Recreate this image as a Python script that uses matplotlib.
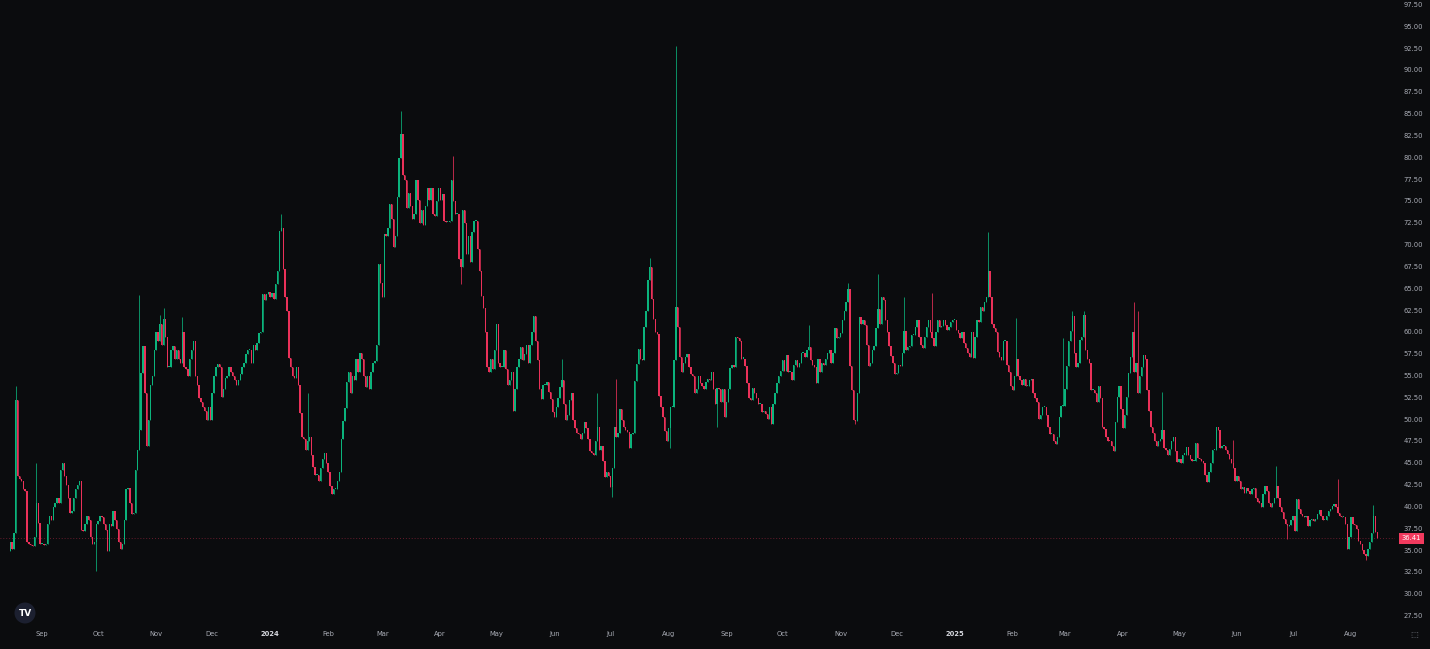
import numpy as np
import pandas as pd
import matplotlib
matplotlib.use("Agg")
import matplotlib.pyplot as plt
import matplotlib.dates as mdates
from matplotlib.patches import Ellipse
from matplotlib.transforms import blended_transform_factory

# ---------------- data (daily closes) ----------------
first_open = 35.0
c_2023_08 = [36.0, 35.2, 37.0, 52.3, 43.5, 43.2, 43.0, 42.0, 41.8, 36.0, 35.8, 35.6, 35.5, 36.5, 40.5, 38.1, 35.8]
c_2023_09 = [35.8, 35.6, 35.8, 38.0, 39.0, 38.5, 40.0, 40.5, 41.0, 40.5, 44.2, 45.0, 43.5, 42.5, 41.0, 39.3, 39.5, 41.0, 42.0, 42.5,
             43.0, 37.4, 37.2, 38.0, 39.0, 38.5, 36.5, 35.8, 36.0, 38.0]
c_2023_10 = [38.4, 39.0, 38.8, 38.0, 37.3, 35.0, 38.0, 37.8, 39.5, 38.5, 37.5, 36.0, 35.2, 35.8, 38.5, 42.0, 42.2, 40.5, 39.2, 39.3,
             44.2, 46.5, 48.8, 55.3, 58.4, 53.0, 47.0, 50.0, 54.0, 55.0, 58.0]
c_2023_11 = [60.0, 59.0, 61.0, 58.5, 61.5, 59.5, 56.0, 56.0, 58.0, 58.4, 57.0, 58.0, 57.0, 56.5, 60.0, 56.0, 55.8, 55.0, 57.0, 58.0,
             59.0, 55.0, 54.0, 52.5, 52.0, 51.5, 51.0, 50.0, 51.5, 50.0]
c_2023_12 = [53.0, 55.0, 56.0, 56.4, 56.0, 52.6, 53.5, 54.8, 55.0, 56.0, 55.5, 55.0, 54.5, 54.0, 54.5, 55.2, 56.0, 56.5, 57.5, 58.0,
             58.0, 56.5, 58.5, 58.0, 58.8, 59.9, 60.0, 64.4, 63.7, 64.4, 64.6]
c_2024_01 = [64.0, 64.5, 63.8, 65.5, 67.0, 71.6, 72.0, 67.2, 64.0, 62.5, 57.1, 56.0, 55.0, 54.8, 56.0, 54.0, 50.7, 48.0, 47.8, 46.5,
             47.5, 48.0, 46.0, 44.6, 43.6, 43.6, 43.0, 44.5, 45.5, 46.2, 45.0]
c_2024_02 = [44.0, 42.4, 41.5, 42.0, 42.0, 43.0, 44.0, 47.8, 49.8, 51.3, 54.3, 55.4, 53.0, 55.0, 54.5, 57.0, 55.5, 57.6, 57.0, 55.0,
             53.7, 55.0, 53.5, 55.5, 56.5, 56.7, 58.5, 67.8, 65.6]
c_2024_03 = [64.0, 71.3, 71.0, 72.0, 74.7, 73.0, 69.8, 71.0, 75.5, 80.0, 82.7, 78.0, 77.5, 74.3, 76.0, 74.5, 73.0, 73.5, 77.5, 75.2,
             72.5, 74.0, 72.3, 74.5, 76.5, 75.2, 76.5, 73.5, 73.3, 75.0, 76.5]
c_2024_04 = [75.2, 75.8, 72.8, 72.6, 72.6, 72.8, 77.5, 75.0, 73.5, 73.5, 68.4, 67.5, 74.0, 72.5, 69.0, 71.0, 68.0, 71.5, 72.8, 72.8,
             69.5, 67.0, 64.2, 62.8, 60.0, 56.0, 55.5, 57.0, 55.8, 58.0]
c_2024_05 = [60.9, 56.5, 56.0, 56.0, 58.0, 55.8, 54.0, 54.5, 55.5, 51.0, 53.5, 56.0, 57.0, 58.3, 56.8, 57.5, 58.5, 56.5, 58.5, 60.0,
             61.9, 59.0, 56.8, 53.5, 52.4, 54.0, 54.0, 54.3, 53.2, 52.4, 50.9]
c_2024_06 = [50.3, 51.5, 52.5, 53.7, 54.5, 51.8, 50.0, 50.5, 52.3, 53.0, 50.0, 49.0, 48.5, 48.3, 47.8, 48.5, 49.7, 49.0, 47.8, 46.4,
             46.2, 46.0, 47.5, 49.1, 46.5, 47.0, 45.3, 43.4, 44.0, 43.5]
c_2024_07 = [42.3, 44.5, 49.1, 48.0, 48.5, 51.2, 50.0, 49.2, 48.8, 48.6, 46.8, 48.3, 48.5, 54.4, 56.4, 58.1, 57.0, 56.8, 60.6, 62.5,
             66.0, 67.5, 63.8, 61.5, 60.0, 59.8, 52.7, 51.4, 50.3, 48.7, 47.6]
c_2024_08 = [49.0, 51.4, 51.4, 56.8, 62.9, 60.6, 57.2, 55.5, 56.5, 57.2, 57.5, 56.0, 55.2, 55.0, 53.0, 53.5, 55.0, 54.2, 53.8, 53.5,
             54.3, 54.7, 54.5, 55.5, 53.5, 51.8, 53.6, 53.5, 52.0, 53.5, 50.3]
c_2024_09 = [52.0, 53.5, 55.9, 56.2, 56.0, 59.5, 59.3, 59.0, 57.0, 57.0, 56.1, 54.2, 52.5, 52.3, 53.6, 53.0, 52.5, 51.8, 51.8, 50.9,
             51.0, 50.6, 50.1, 51.5, 49.5, 51.8, 53.0, 54.2, 55.0, 55.6]
c_2024_10 = [56.8, 55.6, 57.4, 55.4, 55.4, 54.5, 56.3, 56.8, 56.0, 56.5, 57.6, 57.6, 57.2, 58.0, 58.3, 56.8, 56.3, 56.0, 54.2, 57.0,
             55.5, 56.5, 56.3, 57.0, 57.6, 58.0, 56.5, 57.6, 60.5, 59.3, 59.5]
c_2024_11 = [59.9, 61.4, 62.5, 63.5, 65.0, 56.1, 53.4, 50.0, 49.8, 53.0, 61.8, 61.0, 61.4, 60.8, 58.5, 56.1, 56.5, 58.0, 58.4, 60.5,
             62.7, 61.0, 64.0, 63.7, 61.4, 60.0, 58.4, 57.3, 56.5, 55.2]
c_2024_12 = [55.3, 56.3, 56.1, 57.6, 60.1, 58.0, 58.3, 58.4, 59.7, 59.7, 60.6, 61.4, 59.5, 58.5, 58.2, 59.5, 60.6, 61.4, 60.0, 59.3,
             58.4, 60.0, 61.4, 60.6, 60.7, 61.4, 60.8, 60.3, 60.6, 61.2, 61.4]
c_2025_01 = [61.4, 60.3, 59.9, 59.3, 60.0, 58.8, 58.2, 57.6, 57.2, 60.0, 57.1, 59.5, 61.4, 61.2, 62.9, 62.5, 63.5, 64.0, 67.0, 64.0,
             61.0, 60.5, 60.0, 57.8, 57.2, 56.8, 59.0, 59.0, 56.2, 55.5, 53.8]
c_2025_02 = [53.4, 55.0, 57.0, 55.0, 54.5, 54.0, 54.7, 53.8, 53.8, 54.5, 54.6, 53.0, 52.5, 52.0, 50.1, 50.5, 51.4, 51.4, 50.5, 49.2,
             48.4, 48.4, 47.5, 47.2, 48.0, 50.3, 51.6, 51.6]
c_2025_03 = [53.5, 56.1, 59.0, 60.2, 61.9, 57.6, 56.0, 56.5, 59.1, 59.5, 62.0, 58.0, 57.0, 56.5, 53.4, 53.4, 53.0, 52.0, 53.8, 52.5,
             49.2, 48.9, 48.0, 47.6, 47.5, 47.0, 46.4, 49.7, 52.6, 53.8, 51.2]
c_2025_04 = [49.0, 50.5, 52.6, 55.3, 57.2, 60.0, 55.5, 56.5, 53.0, 55.0, 56.0, 57.4, 57.0, 53.4, 51.0, 49.2, 48.5, 47.5, 47.0, 47.6,
             47.8, 48.8, 46.8, 46.5, 46.0, 46.6, 47.5, 48.0, 46.4, 45.2]
c_2025_05 = [45.5, 45.0, 46.0, 46.0, 46.9, 46.0, 45.5, 45.3, 45.3, 47.3, 45.6, 45.5, 45.3, 45.0, 43.7, 42.8, 44.0, 45.0, 46.5, 46.5,
             49.2, 48.8, 46.8, 47.0, 47.0, 46.5, 46.1, 45.5, 45.0, 44.5, 43.0]
c_2025_06 = [43.5, 43.0, 42.0, 42.3, 41.6, 42.2, 41.8, 41.5, 42.0, 42.2, 41.0, 40.6, 40.5, 40.0, 41.5, 42.4, 41.8, 40.5, 40.0, 40.5,
             41.0, 42.4, 41.0, 40.0, 39.4, 38.6, 38.0, 37.8, 37.9, 38.5]
c_2025_07 = [39.0, 37.2, 40.9, 39.8, 39.2, 39.0, 38.8, 38.9, 37.8, 38.5, 38.6, 38.4, 38.6, 39.2, 39.7, 39.0, 38.5, 38.5, 39.0, 39.5,
             39.8, 40.1, 40.3, 40.0, 39.3, 39.0, 38.8, 38.8, 38.0, 35.2, 36.5]
c_2025_08 = [38.8, 38.0, 37.9, 37.5, 36.1, 35.8, 35.1, 34.6, 34.4, 35.2, 36.0, 37.0, 39.0, 37.1, 36.41]

# wick extremes that reach beyond the candle bodies
wick_high = {
    "2023-08-18": 53.8, "2023-08-29": 45.0, "2023-10-23": 64.3, "2023-11-03": 62.0, "2023-11-05": 62.8,
    "2023-11-15": 61.8, "2024-01-07": 73.6, "2024-01-21": 53.0, "2024-03-11": 85.3, "2024-04-08": 80.2,
    "2024-06-05": 57.0, "2024-06-24": 53.0, "2024-07-04": 54.6, "2024-07-22": 68.5, "2024-08-05": 92.8,
    "2024-10-15": 60.8, "2024-11-05": 65.7, "2024-11-21": 66.7, "2024-12-05": 64.1, "2024-12-20": 64.5,
    "2025-01-19": 71.5, "2025-02-03": 61.6, "2025-02-28": 59.3, "2025-03-05": 62.5, "2025-03-11": 62.5,
    "2025-04-07": 63.5, "2025-04-09": 62.5, "2025-04-22": 53.2, "2025-05-30": 47.7, "2025-06-22": 44.7,
    "2025-07-25": 43.2, "2025-08-13": 40.2,
}
wick_low = {
    "2023-09-30": 32.7, "2024-04-12": 65.5, "2024-07-02": 41.1, "2024-08-02": 46.8, "2024-08-27": 49.2,
    "2025-08-09": 33.9, "2024-11-09": 49.5, "2025-06-28": 36.3,
}

month_lists = [
    ("2023-08-15", c_2023_08), ("2023-09-01", c_2023_09), ("2023-10-01", c_2023_10), ("2023-11-01", c_2023_11),
    ("2023-12-01", c_2023_12), ("2024-01-01", c_2024_01), ("2024-02-01", c_2024_02), ("2024-03-01", c_2024_03),
    ("2024-04-01", c_2024_04), ("2024-05-01", c_2024_05), ("2024-06-01", c_2024_06), ("2024-07-01", c_2024_07),
    ("2024-08-01", c_2024_08), ("2024-09-01", c_2024_09), ("2024-10-01", c_2024_10), ("2024-11-01", c_2024_11),
    ("2024-12-01", c_2024_12), ("2025-01-01", c_2025_01), ("2025-02-01", c_2025_02), ("2025-03-01", c_2025_03),
    ("2025-04-01", c_2025_04), ("2025-05-01", c_2025_05), ("2025-06-01", c_2025_06), ("2025-07-01", c_2025_07),
    ("2025-08-01", c_2025_08),
]

month_ticks = ["2023-09-01", "2023-10-01", "2023-11-01", "2023-12-01", "2024-01-01", "2024-02-01", "2024-03-01",
               "2024-04-01", "2024-05-01", "2024-06-01", "2024-07-01", "2024-08-01", "2024-09-01", "2024-10-01",
               "2024-11-01", "2024-12-01", "2025-01-01", "2025-02-01", "2025-03-01", "2025-04-01", "2025-05-01",
               "2025-06-01", "2025-07-01", "2025-08-01"]
month_labels = ["Sep", "Oct", "Nov", "Dec", "2024", "Feb", "Mar", "Apr", "May", "Jun", "Jul", "Aug", "Sep", "Oct",
                "Nov", "Dec", "2025", "Feb", "Mar", "Apr", "May", "Jun", "Jul", "Aug"]
last_value = 36.41

# ---------------- build OHLC ----------------
dates, closes = [], []
for start, vals in month_lists:
    dates.extend(pd.date_range(start, periods=len(vals), freq="D"))
    closes.extend(vals)
dates = pd.DatetimeIndex(dates)
closes = np.array(closes, dtype=float)
opens = np.concatenate([[first_open], closes[:-1]])
highs = np.maximum(opens, closes)
lows = np.minimum(opens, closes)
idx = {d.strftime("%Y-%m-%d"): i for i, d in enumerate(dates)}
for k, v in wick_high.items():
    if k in idx:
        highs[idx[k]] = max(highs[idx[k]], v)
for k, v in wick_low.items():
    if k in idx:
        lows[idx[k]] = min(lows[idx[k]], v)

# ---------------- style ----------------
BG = "#0b0c0e"
UP = "#0bb47c"
DOWN = "#eb3159"
TXT = "#a9acb5"

W, H = 1430, 649
fig = plt.figure(figsize=(W / 100, H / 100), dpi=100, facecolor=BG)
ax = fig.add_axes([0, 25 / H, 1395 / W, 624 / H], facecolor=BG)

x = mdates.date2num(dates)
up = closes >= opens
colors = np.where(up, UP, DOWN)
ax.vlines(x, lows, highs, colors=colors, linewidth=0.55, zorder=2)
body_bottom = np.minimum(opens, closes)
body_h = np.maximum(np.abs(closes - opens), 0.12)
ax.bar(x, body_h, bottom=body_bottom, width=0.72, color=colors, linewidth=0, zorder=3)

# current price line
ax.axhline(last_value, color=DOWN, linestyle=(0, (1, 2.5)), linewidth=0.6, alpha=0.55, zorder=1)

# axis limits (px mapping: Sep 1 2023 -> 42 px, 1.87 px per day; 27.5 -> y 616, 8.73 px per unit)
sep1 = mdates.date2num(pd.Timestamp("2023-09-01"))
ax.set_xlim(sep1 - 42 / 1.87, sep1 + (1395 - 42) / 1.87)
ax.set_ylim(27.5 - 8 / 8.73, 97.5 + 5 / 8.73)
for s in ax.spines.values():
    s.set_visible(False)
ax.set_xticks([])
ax.set_yticks([])

# time axis labels
tx = blended_transform_factory(ax.transData, ax.transAxes)
for d, lab in zip(month_ticks, month_labels):
    is_year = lab.isdigit()
    ax.text(mdates.date2num(pd.Timestamp(d)), -10 / 624, lab, transform=tx, ha="center", va="center",
            fontsize=4.9, color="#d6d8de" if is_year else TXT, fontweight="bold" if is_year else "normal",
            clip_on=False)

# price axis labels
ty = blended_transform_factory(ax.transAxes, ax.transData)
for v in np.arange(27.5, 97.6, 2.5):
    ax.text(1413 / 1395, v, f"{v:.2f}", transform=ty, ha="center", va="center", fontsize=4.9,
            color=TXT, clip_on=False)
ax.text(1411.5 / 1395, last_value, f"{last_value:.2f}", transform=ty, ha="center", va="center", fontsize=4.9,
        color="white", clip_on=False,
        bbox=dict(boxstyle="square,pad=0.35", fc="#f23a5e", ec="none"), zorder=5)

# TradingView logo badge (true circle in pixels)
fig.patches.append(Ellipse((25 / W, 1 - 613 / H), 21 / W, 21 / H, transform=fig.transFigure,
                           facecolor="#1c2030", edgecolor="none"))
fig.text(25 / W, 1 - 613.5 / H, "TV", ha="center", va="center", fontsize=6.5, fontweight="bold",
         color="white")
# auto-scale icon at bottom right
fig.text(1414 / W, 1 - 634 / H, "\u2b1a", ha="center", va="center", fontsize=6, color="#6f737c",
         family=["DejaVu Sans"])

fig.savefig("out.png", dpi=100, facecolor=BG)
